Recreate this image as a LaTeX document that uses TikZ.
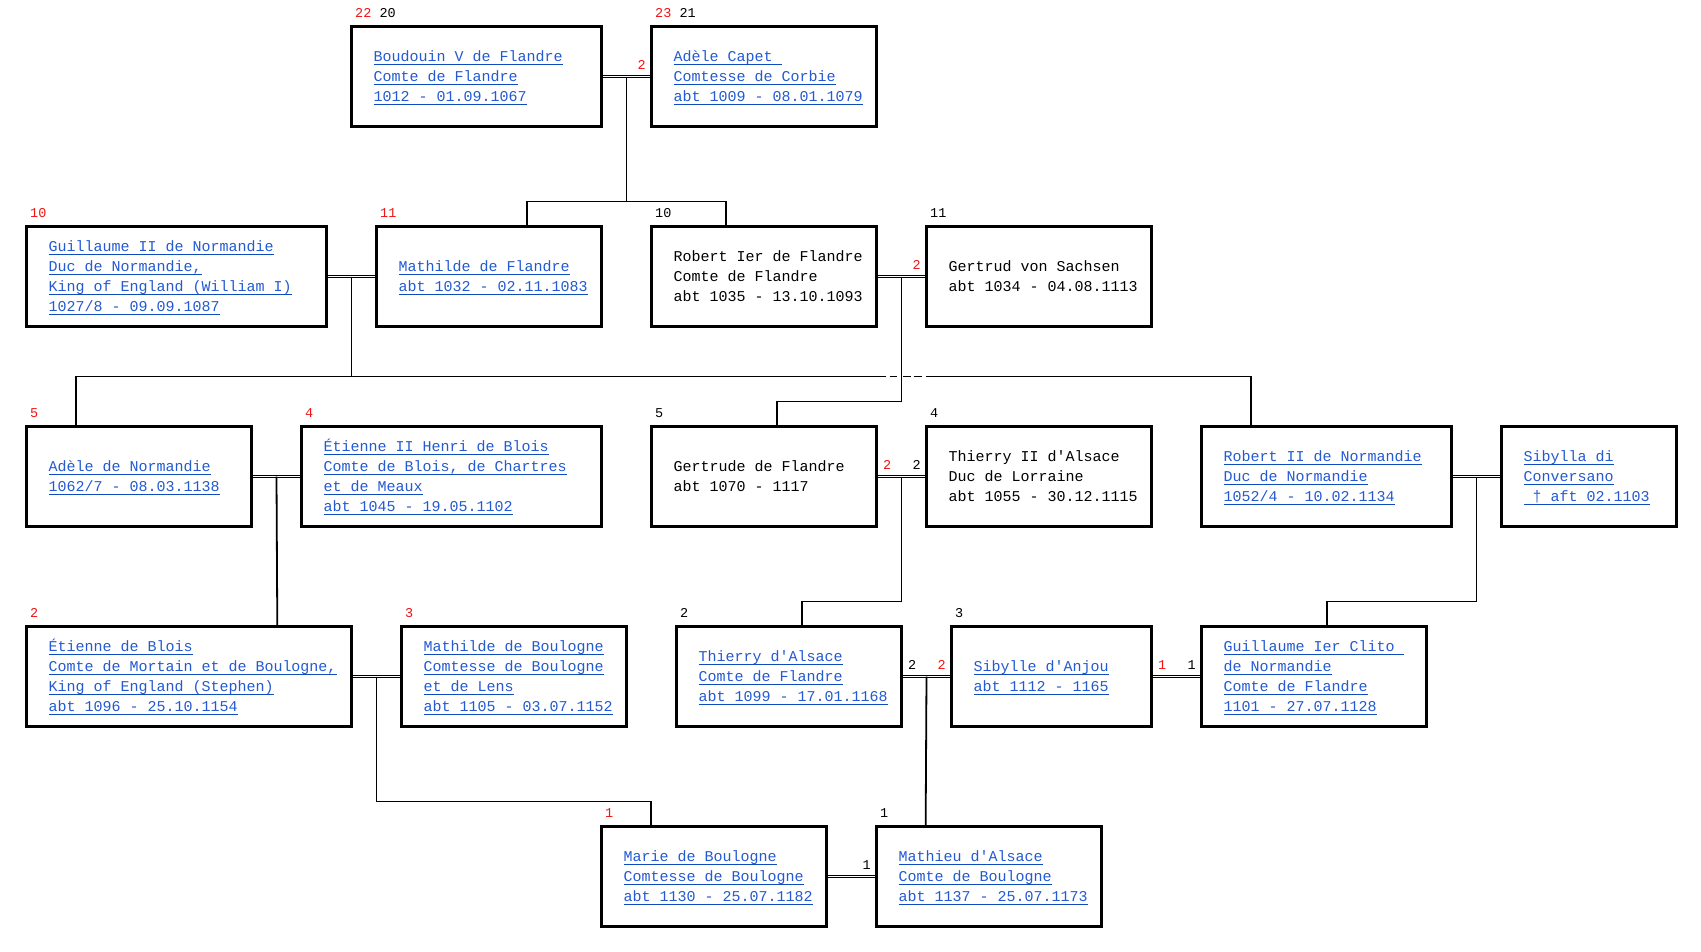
\documentclass[tikz,border=0pt]{standalone}
\usepackage{fontspec}
\setmonofont{Liberation Mono}
\usetikzlibrary{calc}
\definecolor{lnk}{RGB}{35,90,210}
\definecolor{ulc}{RGB}{15,75,190}
\definecolor{tagred}{RGB}{240,20,20}
\newcommand\lk[1]{\leavevmode\setbox0=\hbox{\spaceskip=9pt\relax\xspaceskip=9pt\relax\color{lnk}#1}\hbox{\rlap{\color{ulc}\rule[-3.8pt]{\wd0}{1.1pt}}\box0\rule[-5pt]{0pt}{20pt}}}
\newcommand\bk[1]{\leavevmode\hbox{\spaceskip=9pt\relax\xspaceskip=9pt\relax#1\rule[-5pt]{0pt}{20pt}}}
\newcommand\rd[1]{\textcolor{tagred}{#1}}
\tikzset{
  pbox/.style={draw, line width=3pt, anchor=north west, minimum width=#1, minimum height=100pt,
    inner xsep=22pt, inner ysep=0pt, align=left, text width=#1-44pt,
    font=\ttfamily\fontsize{15}{20}\selectfont},
  tag/.style={inner sep=0pt, font=\ttfamily\fontsize{13.5}{14}\selectfont},
  couple/.style={double, double distance=1.7pt, line width=1pt},
  fam/.style={line width=1.8pt}
}
\begin{document}
\begin{tikzpicture}[x=1pt,y=-1pt]
\useasboundingbox[fill=white] (0,0) rectangle (1701,951);
% row 1
\node[pbox=250pt] (boud) at (350,25) {\lk{Boudouin V de Flandre}\\\lk{Comte de Flandre}\\\lk{1012 - 01.09.1067}};
\node[pbox=225pt] (adcap) at (650,25) {\lk{Adèle Capet\ }\\\lk{Comtesse de Corbie}\\\lk{abt 1009 - 08.01.1079}};
% row 2
\node[pbox=300pt] (guil) at (25,225) {\lk{Guillaume II de Normandie}\\\lk{Duc de Normandie,}\\\lk{King of England (William I)}\\\lk{1027/8 - 09.09.1087}};
\node[pbox=225pt] (mathf) at (375,225) {\lk{Mathilde de Flandre}\\\lk{abt 1032 - 02.11.1083}};
\node[pbox=225pt] (robi) at (650,225) {\bk{Robert Ier de Flandre}\\\bk{Comte de Flandre}\\\bk{abt 1035 - 13.10.1093}};
\node[pbox=225pt] (gertr) at (925,225) {\bk{Gertrud von Sachsen}\\\bk{abt 1034 - 04.08.1113}};
% row 3
\node[pbox=225pt] (adnor) at (25,425) {\lk{Adèle de Normandie}\\\lk{1062/7 - 08.03.1138}};
\node[pbox=300pt] (etII) at (300,425) {\lk{Étienne II Henri de Blois}\\\lk{Comte de Blois, de Chartres}\\\lk{et de Meaux}\\\lk{abt 1045 - 19.05.1102}};
\node[pbox=225pt] (gertf) at (650,425) {\bk{Gertrude de Flandre}\\\bk{abt 1070 - 1117}};
\node[pbox=225pt] (thII) at (925,425) {\bk{Thierry II d'Alsace}\\\bk{Duc de Lorraine}\\\bk{abt 1055 - 30.12.1115}};
\node[pbox=250pt] (robII) at (1200,425) {\lk{Robert II de Normandie}\\\lk{Duc de Normandie}\\\lk{1052/4 - 10.02.1134}};
\node[pbox=175pt] (sib) at (1500,425) {\lk{Sibylla di}\\\lk{Conversano}\\\lk{\ † aft 02.1103}};
% row 4
\node[pbox=325pt] (etb) at (25,625) {\lk{Étienne de Blois}\\\lk{Comte de Mortain et de Boulogne,}\\\lk{King of England (Stephen)}\\\lk{abt 1096 - 25.10.1154}};
\node[pbox=225pt] (mathb) at (400,625) {\lk{Mathilde de Boulogne}\\\lk{Comtesse de Boulogne}\\\lk{et de Lens}\\\lk{abt 1105 - 03.07.1152}};
\node[pbox=225pt] (thA) at (675,625) {\lk{Thierry d'Alsace}\\\lk{Comte de Flandre}\\\lk{abt 1099 - 17.01.1168}};
\node[pbox=200pt] (sibA) at (950,625) {\lk{Sibylle d'Anjou}\\\lk{abt 1112 - 1165}};
\node[pbox=225pt] (gclito) at (1200,625) {\lk{Guillaume Ier Clito\ }\\\lk{de Normandie}\\\lk{Comte de Flandre}\\\lk{1101 - 27.07.1128}};
% row 5
\node[pbox=225pt] (marie) at (600,825) {\lk{Marie de Boulogne}\\\lk{Comtesse de Boulogne}\\\lk{abt 1130 - 25.07.1182}};
\node[pbox=225pt] (mathieu) at (875,825) {\lk{Mathieu d'Alsace}\\\lk{Comte de Boulogne}\\\lk{abt 1137 - 25.07.1173}};

% generation tags above boxes
\foreach \b/\t in {boud/{\rd{22} 20}, adcap/{\rd{23} 21}, guil/\rd{10}, mathf/\rd{11}, robi/10, gertr/11,
  adnor/\rd{5}, etII/\rd{4}, gertf/5, thII/4, etb/\rd{2}, mathb/\rd{3}, thA/2, sibA/3, marie/\rd{1}, mathieu/1}
  \node[tag, anchor=base west] (g-\b) at ($(\b.north west)+(5,-8)$) {\t};

% couples
\draw[couple] (boud.east) -- (adcap.west);
\draw[couple] (guil.east) -- (mathf.west);
\draw[couple] (robi.east) -- (gertr.west);
\draw[couple] (adnor.east) -- (etII.west);
\draw[couple] (gertf.east) -- (thII.west);
\draw[couple] (robII.east) -- (sib.west);
\draw[couple] (etb.east) -- (mathb.west);
\draw[couple] (thA.east) -- (sibA.west);
\draw[couple] (sibA.east) -- (gclito.west);
\draw[couple] (marie.east) -- (mathieu.west);

% marriage count tags
\node[tag, anchor=base east] (m1) at ($(adcap.west)+(-4,-7)$) {\rd{2}};
\node[tag, anchor=base east] (m2) at ($(gertr.west)+(-4,-7)$) {\rd{2}};
\node[tag, anchor=base west] (m3) at ($(gertf.east)+(5,-7)$) {\rd{2}};
\node[tag, anchor=base east] (m4) at ($(thII.west)+(-4,-7)$) {2};
\node[tag, anchor=base west] (m5) at ($(thA.east)+(5,-7)$) {2};
\node[tag, anchor=base east] (m6) at ($(sibA.west)+(-4,-7)$) {\rd{2}};
\node[tag, anchor=base west] (m7) at ($(sibA.east)+(5,-7)$) {\rd{1}};
\node[tag, anchor=base east] (m8) at ($(gclito.west)+(-4,-7)$) {1};
\node[tag, anchor=base east] (m9) at ($(mathieu.west)+(-4,-7)$) {1};

% couple mid points
\coordinate (cA) at ($(boud.east)!0.5!(adcap.west)$);
\coordinate (cB) at ($(guil.east)!0.5!(mathf.west)$);
\coordinate (cC) at ($(robi.east)!0.5!(gertr.west)$);
\coordinate (cD) at ($(adnor.east)!0.5!(etII.west)$);
\coordinate (cE) at ($(gertf.east)!0.5!(thII.west)$);
\coordinate (cF) at ($(robII.east)!0.5!(sib.west)$);
\coordinate (cG) at ($(etb.east)!0.5!(mathb.west)$);
\coordinate (cH) at ($(thA.east)!0.5!(sibA.west)$);

% child attachment points
\coordinate (tA1) at ($(mathf.north west)!0.6667!(mathf.north east)$);
\coordinate (tA2) at ($(robi.north west)!0.3333!(robi.north east)$);
\coordinate (tB1) at ($(adnor.north west)!0.2222!(adnor.north east)$);
\coordinate (tB2) at ($(robII.north west)!0.2!(robII.north east)$);
\coordinate (tC) at ($(gertf.north west)!0.5556!(gertf.north east)$);
\coordinate (tD) at ($(etb.north west)!0.7692!(etb.north east)$);
\coordinate (tE) at ($(thA.north west)!0.5556!(thA.north east)$);
\coordinate (tF) at ($(gclito.north west)!0.5556!(gclito.north east)$);
\coordinate (tG) at ($(marie.north west)!0.2222!(marie.north east)$);
\coordinate (tH) at ($(mathieu.north west)!0.2222!(mathieu.north east)$);

% descents
\draw[fam] (cA) -- ++(0,125) -| (tA1);
\draw[fam] (cA) ++(0,125) -| (tA2);
\draw[fam] (cB) -- ++(0,100) -| (tB1);
\coordinate (xg1) at ($(cB)+(534,100)$);
\coordinate (xg2) at ($(cB)+(574,100)$);
\draw[fam] (cB) ++(0,100) -- (xg1);
\draw[fam, dash pattern=on 0pt off 4pt on 7pt off 6pt on 8pt off 3pt on 8pt off 4pt] (xg1) -- (xg2);
\draw[fam] (xg2) -| (tB2);
\draw[fam] (cC) -- ++(0,125) -| (tC);
\draw[fam] (cD) -- (tD);
\draw[fam] (cE) -- ++(0,125) -| (tE);
\draw[fam] (cF) -- ++(0,125) -| (tF);
\draw[fam] (cG) -- ++(0,125) -| (tG);
\draw[fam] (cH) -- (tH);
\end{tikzpicture}
\end{document}
